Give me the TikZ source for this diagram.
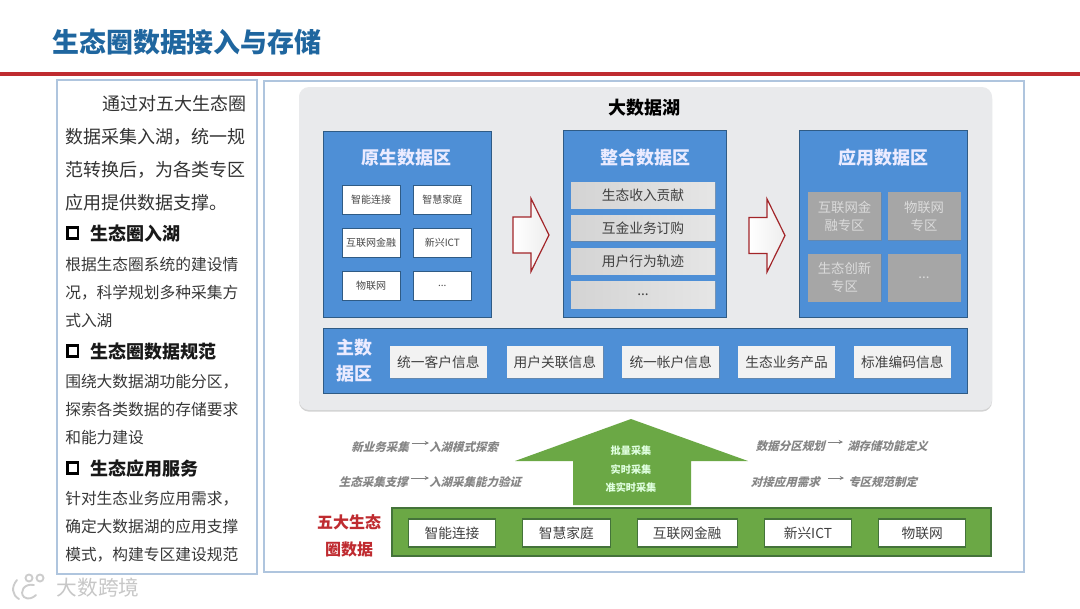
\documentclass[tikz,border=0pt]{standalone}
\usepackage{xcolor}
\usepackage{fontspec}
\usepackage{tikz}
\usetikzlibrary{arrows.meta,positioning,shadows}
\setmainfont{Noto Sans CJK SC}
\newfontfamily\slantfont[FakeSlant=0.25]{Noto Sans CJK SC}
\definecolor{titleblue}{HTML}{1F669F}
\definecolor{framered}{HTML}{BF2B30}
\definecolor{frameblue}{HTML}{AFC5DE}
\definecolor{lakegrey}{HTML}{E9EAEC}
\definecolor{zoneblue}{HTML}{4E8FD6}
\definecolor{zoneedge}{HTML}{2F5B85}
\definecolor{leafgreen}{HTML}{6BA845}
\definecolor{leafedge}{HTML}{44733A}
\newcommand{\fpx}[2]{\fontsize{#1}{#2}\selectfont}

\begin{document}
\begin{tikzpicture}[
  x=0.75pt,y=-0.75pt,
  pagetitle/.style={font=\fpx{20.2}{24}\bfseries,text=titleblue,anchor=west,inner sep=0pt},
  introtext/.style={font=\fpx{13.5}{24.75},text=black!80,anchor=west,align=left,inner sep=0pt},
  bodytext/.style={font=\fpx{11.8}{21},text=black!78,anchor=west,align=left,inner sep=0pt},
  headtext/.style={font=\fpx{13.5}{16}\bfseries,text=black!90,anchor=west,inner sep=0pt},
  tickbox/.style={draw=black,line width=2pt,minimum size=8pt,inner sep=0pt},
  zone/.style={rectangle,draw=zoneedge,line width=0.6pt,fill=zoneblue,drop shadow={shadow xshift=0.5pt,shadow yshift=-0.8pt,opacity=0.35},inner sep=0pt},
  zonetitle/.style={font=\fpx{13.5}{19.5}\bfseries,text=white!92!blue,align=center,inner sep=0pt},
  srcbox/.style={rectangle,draw=zoneedge,line width=0.6pt,fill=white,minimum width=43.5pt,minimum height=21.75pt,font=\fpx{7.5}{9},text=black!72,inner sep=0pt},
  intbox/.style={rectangle,left color=black!17,right color=black!10,minimum width=108pt,font=\fpx{10.3}{12},text=black!75,inner sep=0pt,drop shadow={shadow xshift=0.4pt,shadow yshift=-0.6pt,opacity=0.45}},
  appbox/.style={rectangle,fill=black!35,minimum width=54.75pt,minimum height=36pt,font=\fpx{10}{13.5},text=black!14,align=center,inner sep=0pt,drop shadow={shadow xshift=0.4pt,shadow yshift=-0.6pt,opacity=0.45}},
  mainbox/.style={rectangle,fill=black!5,minimum width=72.5pt,minimum height=24pt,font=\fpx{10.3}{12},text=black!75,inner sep=0pt,drop shadow={shadow xshift=0.4pt,shadow yshift=-0.6pt,opacity=0.45}},
  lakebox/.style={rectangle,draw=leafedge,line width=0.8pt,fill=white,minimum width=65.5pt,minimum height=21pt,font=\fpx{10.3}{12},text=black!75,inner sep=0pt},
  flowtext/.style={font=\slantfont\fpx{8.6}{10}\bfseries,text=black!48,inner sep=0pt},
  flowarr/.style={-{Stealth[length=3.2pt,width=3pt]},line width=0.5pt,black!50},
  hollowarr/.style={draw=framered!85!black,line width=0.9pt,left color=white,right color=black!7,line join=miter},
  markstroke/.style={draw=black!20,line width=1.4pt,line cap=round}
]
  \useasboundingbox (0,0) rectangle (1080,608);
  \fill[white] (0,0) rectangle (1080,608);

  \node[pagetitle] (pagehead) at (52,42) {生态圈数据接入与存储};
  \draw[framered,line width=2.4pt] (0,74) -- (1080,74);

  \node[rectangle,draw=frameblue,line width=0.9pt,minimum width=150pt,minimum height=370.5pt,inner sep=0pt] (sidepanel) at (157,327) {};
  \node[introtext] (intro) at (65,153) {\hspace*{27.75pt}通过对五大生态圈\\数据采集入湖，统一规\\范转换后，为各类专区\\应用提供数据支撑。};
  \node[tickbox] (tick1) at (72.5,233) {};
  \node[headtext] (head1) at (90,234) {生态圈入湖};
  \node[bodytext] (body1) at (65,292) {根据生态圈系统的建设情\\况，科学规划多种采集方\\式入湖};
  \node[tickbox] (tick2) at (72.5,351) {};
  \node[headtext] (head2) at (90,352) {生态圈数据规范};
  \node[bodytext] (body2) at (65,410) {围绕大数据湖功能分区，\\探索各类数据的存储要求\\和能力建设};
  \node[tickbox] (tick3) at (72.5,468) {};
  \node[headtext] (head3) at (90,469) {生态应用服务};
  \node[bodytext] (body3) at (65,527) {针对生态业务应用需求，\\确定大数据湖的应用支撑\\模式，构建专区建设规范};

  \node[rectangle,draw=frameblue,line width=1.2pt,fill=white,minimum width=570pt,minimum height=368.25pt,inner sep=0pt,drop shadow={shadow xshift=0.5pt,shadow yshift=-0.8pt,opacity=0.25}] (rightpanel) at (644,326.5) {};
  \node[rectangle,rounded corners=7.5pt,fill=lakegrey,minimum width=519.75pt,minimum height=242.25pt,inner sep=0pt,drop shadow={shadow xshift=0pt,shadow yshift=-1.2pt,opacity=0.35}] (lake) at (645.5,248.5) {};
  \node[font=\fpx{13.5}{16}\bfseries,text=black,inner sep=0pt] (laketitle) at (644,108) {大数据湖};

  \node[zone,minimum width=126pt,minimum height=139.5pt] (rawzone) at (407,224) {};
  \node[zonetitle] (rawtitle) at (406,158) {原生数据区};
  \node[srcbox] (raw1) at (371,199.5) {智能连接};
  \node[srcbox,right=9.4pt of raw1] (raw2) {智慧家庭};
  \node[srcbox,below=10pt of raw1] (raw3) {互联网金融};
  \node[srcbox,right=9.4pt of raw3] (raw4) {新兴ICT};
  \node[srcbox,below=10pt of raw3] (raw5) {物联网};
  \node[srcbox,right=9.4pt of raw5] (raw6) {...};

  \node[zone,minimum width=122.25pt,minimum height=140.25pt] (intzone) at (644.5,223.5) {};
  \node[zonetitle] (inttitle) at (645,158) {整合数据区};
  \node[intbox,minimum height=19.5pt] (int1) at (643,195) {生态收入贡献};
  \node[intbox,minimum height=19pt,below=5.25pt of int1] (int2) {互金业务订购};
  \node[intbox,minimum height=19pt,below=5.5pt of int2] (int3) {用户行为轨迹};
  \node[intbox,minimum height=20pt,below=5.25pt of int3] (int4) {...};

  \node[zone,minimum width=126pt,minimum height=140.25pt] (appzone) at (883,223.5) {};
  \node[zonetitle] (apptitle) at (883,158) {应用数据区};
  \node[appbox] (app1) at (844.5,216) {互联网金\\融专区};
  \node[appbox,right=4.5pt of app1] (app2) {物联网\\专区};
  \node[appbox,below=9.75pt of app1] (app3) {生态创新\\专区};
  \node[appbox,right=4.5pt of app3] (app4) {...};

  \foreach \ax/\ay in {513/235,749/235.5} {
    \draw[hollowarr,shift={(\ax,\ay)}] (0,-18) -- (18,-18) -- (18,-36.5) -- (36,0) -- (18,36.5) -- (18,18) -- (0,18) -- cycle;
  }

  \node[zone,minimum width=483pt,minimum height=48.75pt] (mainzone) at (645,360.5) {};
  \node[zonetitle] (maintitle) at (354,361) {主数\\据区};
  \node[mainbox] (main1) at (438.3,362) {统一客户信息};
  \node[mainbox,right=14.5pt of main1] (main2) {用户关联信息};
  \node[mainbox,right=14pt of main2] (main3) {统一帐户信息};
  \node[mainbox,right=14pt of main3] (main4) {生态业务产品};
  \node[mainbox,right=14pt of main4] (main5) {标准编码信息};

  \fill[leafgreen] (631,419) -- (748,461) -- (691,461) -- (691,505) -- (573,505) -- (573,461) -- (515,461) -- cycle;
  \node[font=\fpx{7.6}{13.9}\bfseries,text=white!88!green,align=center,inner sep=0pt] (collect) at (631,469.5) {批量采集\\实时采集\\准实时采集};

  \node[rectangle,draw=leafedge,line width=0.8pt,fill=leafgreen,minimum width=449.25pt,minimum height=36pt,inner sep=0pt] (srcband) at (691.5,532) {};
  \node[font=\fpx{12}{20.25}\bfseries,text=framered,align=center,inner sep=0pt] (srctitle) at (349,535.5) {五大生态\\圈数据};
  \node[lakebox] (src1) at (452,533) {智能连接};
  \node[lakebox,right=19.5pt of src1] (src2) {智慧家庭};
  \node[lakebox,minimum width=75pt,right=19.5pt of src2] (src3) {互联网金融};
  \node[lakebox,right=19.5pt of src3] (src4) {新兴ICT};
  \node[lakebox,right=19.5pt of src4] (src5) {物联网};

  \node[flowtext,anchor=east] (flowa1) at (409,447) {新业务采集};
  \node[flowtext,anchor=west] (flowa2) at (429,447) {入湖模式探索};
  \node[flowtext,anchor=east] (flowb1) at (408,482) {生态采集支撑};
  \node[flowtext,anchor=west] (flowb2) at (429,482) {入湖采集能力验证};
  \node[flowtext,anchor=east] (flowc1) at (825,446) {数据分区规划};
  \node[flowtext,anchor=west] (flowc2) at (847,446) {湖存储功能定义};
  \node[flowtext,anchor=east] (flowd1) at (820,482) {对接应用需求};
  \node[flowtext,anchor=west] (flowd2) at (848,482) {专区规范制定};

  \draw[flowarr] ([xshift=2pt,yshift=3pt]flowa1.east) -- ([yshift=3pt]flowa2.west);
  \draw[flowarr] ([xshift=2pt,yshift=3pt]flowb1.east) -- ([yshift=3pt]flowb2.west);
  \draw[flowarr] ([xshift=2pt,yshift=3pt]flowc1.east) -- ([xshift=-3pt,yshift=3pt]flowc2.west);
  \draw[flowarr] ([xshift=6pt,yshift=3pt]flowd1.east) -- ([xshift=-3pt,yshift=3pt]flowd2.west);

  \draw[markstroke] (17,580) .. controls (11,587) and (12,595) .. (19,599);
  \draw[markstroke] (34,585) .. controls (24,583) and (19,592) .. (24,597) .. controls (28,600) and (33,598) .. (36,595);
  \draw[markstroke] (29,578) circle (3.5);
  \draw[markstroke] (40,578) circle (3.5);
  \node[font=\fpx{15.5}{18},text=black!22,inner sep=0pt] (markname) at (98,588) {大数跨境};
\end{tikzpicture}
\end{document}
